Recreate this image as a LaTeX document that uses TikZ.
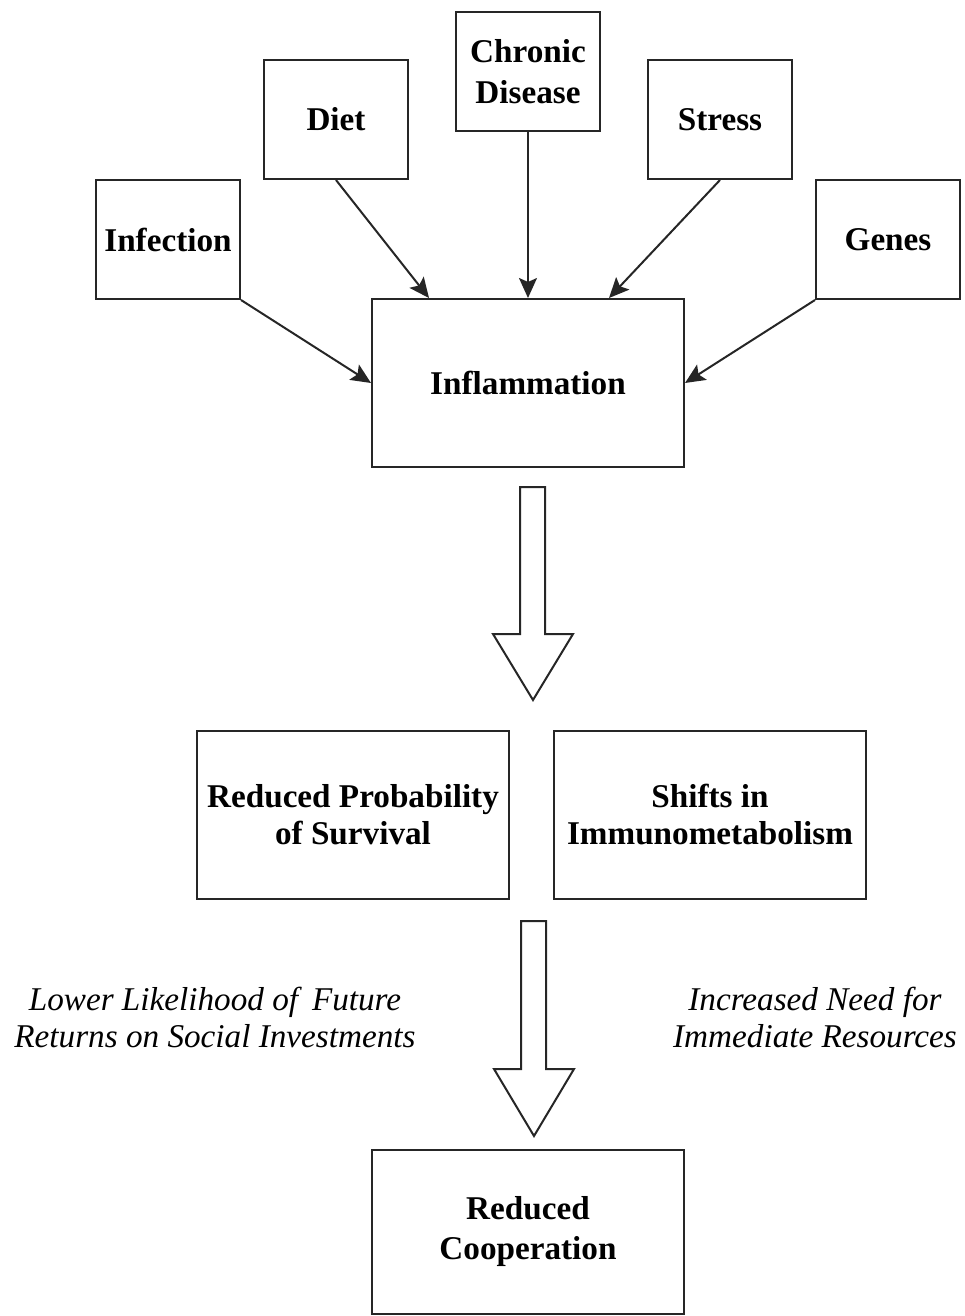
\documentclass[tikz,border=0pt]{standalone}
\usepackage{fontspec}
\setmainfont{Liberation Serif}
\usetikzlibrary{arrows.meta}
\begin{document}
\begin{tikzpicture}[x=0.5pt,y=-0.5pt,
  smallbox/.style={draw=black!85, line width=1pt, minimum width=72pt, minimum height=59.5pt, inner sep=0pt, align=center, font=\bfseries\fontsize{16.6}{20.5}\selectfont},
  bigbox/.style={draw=black!85, line width=1pt, minimum width=156pt, minimum height=84pt, inner sep=0pt, align=center, font=\bfseries\fontsize{16.6}{18.5}\selectfont},
  label/.style={align=center, inner sep=0pt, font=\itshape\fontsize{16.6}{18.5}\selectfont},
  link/.style={line width=1pt, black!85, -{Stealth[length=10pt,width=9pt,inset=2pt]}},
  blockarrow/.style={draw=black!85, line width=1pt, fill=white, line join=miter}
]
\useasboundingbox (0,0) rectangle (964,1316);
% top causes
\node[smallbox] (infection) at (168,239.5) {Infection};
\node[smallbox] (diet) at (336,119.5) {Diet};
\node[smallbox] (chronic) at (528,71.5) {Chronic\\Disease};
\node[smallbox] (stress) at (720,119.5) {Stress};
\node[smallbox] (genes) at (888,239.5) {Genes};
% central box
\node[bigbox] (inflam) at (528,383) {Inflammation};
% connectors
\draw[link] (infection.south east) -- (inflam.west);
\draw[link] (diet.south) -- ([xshift=29pt]inflam.north west);
\draw[link] (chronic.south) -- (inflam.north);
\draw[link] (stress.south) -- ([xshift=-38pt]inflam.north east);
\draw[link] (genes.south west) -- (inflam.east);
% block arrow 1
\draw[blockarrow] (520,487) -- (545,487) -- (545,634) -- (573,634) -- (533,700) -- (493,634) -- (520,634) -- cycle;
% middle boxes
\node[bigbox] (survival) at (353,814.5) {Reduced Probability\\of Survival};
\node[bigbox] (shifts) at (710,814.5) {Shifts in\\Immunometabolism};
% block arrow 2
\draw[blockarrow] (521,921) -- (546,921) -- (546,1069) -- (574,1069) -- (534,1136) -- (494,1069) -- (521,1069) -- cycle;
% labels
\node[label] (lower) at (215,1017) {Lower Likelihood of\, Future\\Returns on Social Investments};
\node[label] (need) at (815,1017) {Increased Need for\\Immediate Resources};
% bottom box
\node[bigbox, minimum height=82pt, font=\bfseries\fontsize{16.6}{20}\selectfont] (coop) at (528,1232) {Reduced\\Cooperation};
\end{tikzpicture}
\end{document}
